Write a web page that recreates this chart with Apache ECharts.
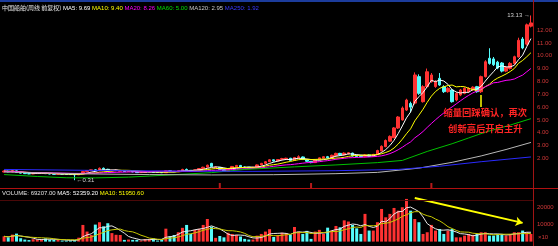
<!DOCTYPE html>
<html><head><meta charset="utf-8">
<script src="https://cdn.jsdelivr.net/npm/echarts@6/dist/echarts.min.js"></script>
<style>html,body{margin:0;padding:0;background:#000;}#c{width:558px;height:246px;}</style>
</head><body><div id="c"></div>
<script>
// ---- data ----
// weekly candles: [open, close, low, high]
const candles = [
[0.95,1.02,0.92,1.06],[1.02,0.96,0.93,1.05],[0.96,1.04,0.94,1.08],[1.04,0.92,0.90,1.06],[0.92,0.86,0.84,0.94],
[0.86,0.82,0.80,0.88],[0.82,0.80,0.78,0.84],[0.80,0.83,0.78,0.85],[0.83,0.85,0.81,0.87],[0.85,0.88,0.83,0.90],
[0.88,0.82,0.80,0.90],[0.82,0.79,0.77,0.84],[0.79,0.77,0.75,0.80],[0.77,0.80,0.76,0.82],[0.80,0.78,0.76,0.81],
[0.78,0.76,0.74,0.79],[0.76,0.75,0.73,0.78],[0.75,0.73,0.31,0.77],[0.73,0.80,0.72,0.82],[0.80,0.98,0.79,1.02],
[0.98,1.06,0.95,1.10],[1.06,1.12,1.02,1.15],[1.12,1.04,1.00,1.18],[1.04,1.24,1.02,1.30],[1.24,1.16,1.12,1.30],
[1.16,1.02,0.98,1.20],[1.02,1.08,0.98,1.12],[1.05,1.10,1.02,1.13],[1.00,1.04,0.98,1.07],[1.04,0.98,0.96,1.05],
[0.98,1.00,0.96,1.02],[1.00,0.95,0.93,1.01],[0.95,0.90,0.88,0.96],[0.90,0.92,0.89,0.93],[0.92,0.95,0.90,0.96],
[0.95,0.98,0.93,1.00],[0.98,0.93,0.91,0.99],[0.93,0.91,0.90,0.94],[0.91,0.89,0.87,0.93],[0.89,1.05,0.88,1.10],
[1.05,1.00,0.97,1.08],[1.00,0.97,0.95,1.02],[0.97,1.06,0.95,1.09],[1.06,1.15,1.03,1.20],[1.15,1.08,1.05,1.22],
[1.08,1.03,1.00,1.10],[1.03,1.12,1.01,1.15],[1.12,1.22,1.10,1.26],[1.22,1.32,1.20,1.36],[1.32,1.48,1.30,1.52],
[1.62,1.38,1.34,1.66],[1.30,1.34,1.26,1.38],[1.30,1.15,1.10,1.33],[1.15,1.00,0.96,1.18],[1.00,1.20,0.98,1.24],
[1.20,1.38,1.16,1.42],[1.36,1.46,1.32,1.50],[1.46,1.30,1.26,1.50],[1.34,1.28,1.25,1.37],[1.32,1.27,1.25,1.34],
[1.27,1.32,1.25,1.35],[1.32,1.50,1.30,1.54],[1.50,1.62,1.47,1.66],[1.62,1.75,1.58,1.80],[1.75,1.90,1.72,1.95],
[1.90,1.80,1.76,1.93],[1.80,1.92,1.78,1.96],[1.92,2.00,1.88,2.05],[1.95,2.02,1.90,2.06],[2.02,1.85,1.80,2.05],
[1.85,2.08,1.82,2.12],[2.05,2.14,2.00,2.25],[2.12,1.92,1.88,2.16],[1.92,1.78,1.72,1.95],[1.78,1.68,1.63,1.80],
[1.68,1.90,1.65,1.93],[1.90,2.05,1.86,2.08],[2.02,2.14,1.98,2.18],[2.14,2.05,2.00,2.20],[2.05,2.25,2.02,2.30],
[2.22,2.40,2.18,2.45],[2.40,2.28,2.24,2.44],[2.28,2.42,2.25,2.48],[2.38,2.45,2.30,2.50],[2.42,2.20,2.15,2.45],
[2.25,2.15,2.10,2.30],[2.22,2.14,2.10,2.26],[2.14,2.28,2.10,2.33],[2.28,2.18,2.14,2.32],[2.18,2.32,2.15,2.36],
[2.30,2.62,2.27,2.68],[2.58,2.95,2.55,3.02],[2.92,3.40,2.88,3.48],[3.35,3.72,3.30,3.80],[3.62,4.38,3.58,4.45],
[4.37,5.23,4.30,5.30],[5.00,5.93,4.95,6.05],[5.77,6.55,5.70,6.65],[6.28,6.00,5.60,6.42],[6.31,8.50,6.20,8.70],
[8.37,7.07,6.95,8.55],[6.42,7.59,6.35,7.70],[7.59,8.75,7.50,9.00],[7.98,8.50,7.90,8.65],[7.60,7.98,7.50,8.10],
[8.24,7.72,7.65,8.65],[7.59,7.20,7.10,7.70],[7.20,7.46,7.12,7.55],[7.33,6.42,6.35,7.40],[6.55,7.07,6.45,7.15],
[6.94,7.33,6.85,7.40],[7.07,7.46,7.00,7.55],[7.20,7.46,7.12,7.55],[7.35,7.55,7.25,7.62],[7.59,7.20,7.12,7.65],
[7.20,8.37,7.10,8.45],[8.37,9.53,8.30,9.65],[9.80,9.40,9.30,10.58],[9.75,9.30,9.20,9.90],[9.50,9.04,8.95,9.60],
[9.43,8.80,8.70,9.50],[8.80,9.10,8.72,9.20],[9.00,9.40,8.92,9.50],[9.40,9.92,9.30,10.00],[9.90,11.20,9.85,11.40],
[11.30,10.60,10.50,11.45],[10.90,12.40,10.80,12.50],[12.30,12.55,12.20,13.13]
];
// weekly volume (axis units, x10)
const volumes = [
3100,2500,4100,4700,2000,1200,900,1400,1200,1500,
1900,1200,1000,1000,600,600,700,900,2300,9800,
5900,3900,10000,11400,9000,10800,5000,4000,3900,1000,
1200,1000,1000,600,1500,1500,1900,600,1200,7600,
3100,3900,5500,8100,9800,4500,6900,7500,9800,13300,
8800,2200,3300,2500,5200,4500,3900,3000,1600,1200,
1200,3500,4500,5900,7300,2700,3900,5200,5000,3900,
8600,5900,4500,6300,1600,5900,6900,4500,8200,6500,
9200,8400,12500,11800,9800,7800,4500,16300,6500,6500,
11400,19200,14300,16300,19800,18200,20200,25100,18200,13300,
11400,4500,5500,9800,6500,7400,4500,6500,7400,2500,
2500,3500,4500,4000,4500,5500,5500,3500,3500,4500,
4500,3500,4500,5500,5500,6500,5500,4500
];
// long moving averages at sample weeks: [week, value]
const ma60Pts  = [[0,0.75],[8,0.60],[15,0.50],[22,0.49],[30,0.55],[40,0.72],[50,0.90],[58,1.15],[70,1.35],[80,1.50],[90,1.68],[96,1.85],[102,2.55],[108,3.15],[112,3.60],[116,4.05],[122,4.60],[127,5.10]];
const ma120Pts = [[0,0.95],[10,0.88],[20,0.80],[35,0.75],[50,0.72],[65,0.74],[80,0.82],[90,0.92],[100,1.25],[108,1.70],[115,2.20],[121,2.70],[127,3.25]];
const ma250Pts = [[0,1.15],[20,1.08],[40,1.02],[60,1.00],[80,1.05],[95,1.15],[105,1.40],[115,1.75],[127,2.12]];
const priceTicks = [2,3,4,5,6,7,8,9,10,11,12];
const volTicks = [10000,20000];
const infoMarkWeeks = [52,74,103];
const pointerWeek = 115, pointerRange = [6.0, 6.95];
const volArrow = [[99,25600],[125,11000]];
const noteLines = [['缩量回踩确认，再次',116,5.62],['创新高后开启主升',116,4.37]];
const headerItems = [['中国船舶(周线 前复权)','#e8e8e8'],['MA5: 9.69','#ffffff'],['MA10: 9.40','#ffff00'],['MA20: 8.26','#ff00ff'],['MA60: 5.00','#00e000'],['MA120: 2.95','#c8c8c8'],['MA250: 1.92','#3a3aff']];
const volHeaderItems = [['VOLUME: 69207.00','#e0e0e0'],['MA5: 52359.20','#ffffff'],['MA10: 51950.60','#ffff00']];

// ---- build ----
const cats = candles.map((_, i) => String(i));
const closes = candles.map(d => d[1]);
function movingAvg(arr, n){
  return arr.map((_, i) => { const s = Math.max(0, i - n + 1); let sum = 0; for (let k = s; k <= i; k++) sum += arr[k]; return +(sum / (i - s + 1)).toFixed(3); });
}
const UP = '#ff3232', DOWN = '#54fcfc', AXIS_RED = '#d03838', NUMFONT = 'Liberation Sans', CJK = 'Noto Sans CJK SC';
const volData = volumes.map((v, i) => ({ value: v, itemStyle: { color: candles[i][1] >= candles[i][0] ? UP : DOWN } }));
const pts = arr => arr.map(p => [String(p[0]), p[1]]);
function richHeader(items){
  const rich = {}; const parts = [];
  items.forEach((it, k) => { rich['r' + k] = { fill: it[1], fontSize: 6, fontFamily: /[\u4e00-\u9fff]/.test(it[0]) ? CJK : NUMFONT }; parts.push('{r' + k + '|' + it[0] + '}'); });
  return { text: parts.join(' '), rich };
}
const h1 = richHeader(headerItems), h2 = richHeader(volHeaderItems);
const lineS = (name, data, color, xi, yi) => ({ name, type: 'line', data, xAxisIndex: xi, yAxisIndex: yi, showSymbol: false, symbol: 'none', z: 4, lineStyle: { color, width: 1 }, silent: true });

const chart = echarts.init(document.getElementById('c'), null, { renderer: 'canvas', width: 558, height: 246 });
chart.setOption({
  backgroundColor: '#000',
  animation: false,
  grid: [
    { left: 2, width: 531, top: 4.3, height: 179.9 },
    { left: 2, width: 531, top: 197.4, height: 44.2 }
  ],
  xAxis: [
    { type: 'category', data: cats, gridIndex: 0, boundaryGap: true, show: false },
    { type: 'category', data: cats, gridIndex: 1, boundaryGap: true, show: false }
  ],
  yAxis: [
    { type: 'value', gridIndex: 0, position: 'right', min: 0, max: 14, interval: 1, splitLine: { show: false }, axisLine: { show: false }, axisTick: { show: false },
      axisLabel: { margin: 4, color: AXIS_RED, fontSize: 6, fontFamily: NUMFONT, formatter: v => priceTicks.includes(v) ? v.toFixed(2) : '' } },
    { type: 'value', gridIndex: 1, position: 'right', min: 0, max: 26000, interval: 10000, splitLine: { show: false }, axisLine: { show: false }, axisTick: { show: false },
      axisLabel: { margin: 4, color: AXIS_RED, fontSize: 6, fontFamily: NUMFONT, formatter: v => volTicks.includes(v) ? String(v) : '' } }
  ],
  series: [
    { name: 'K', type: 'candlestick', data: candles, xAxisIndex: 0, yAxisIndex: 0, barWidth: 3, z: 2,
      itemStyle: { color: UP, color0: DOWN, borderColor: UP, borderColor0: DOWN, borderWidth: 1 },
      markPoint: { symbol: 'circle', symbolSize: 0, silent: true,
        data: [
          { type: 'max', valueDim: 'highest', label: { show: true, position: 'left', distance: 1, color: '#d0d0d0', fontSize: 6, fontFamily: NUMFONT, formatter: p => p.value.toFixed(2) + ' \u2192' } },
          { type: 'min', valueDim: 'lowest', label: { show: true, position: 'right', distance: 2, color: '#d0d0d0', fontSize: 6, fontFamily: NUMFONT, formatter: p => '\u2190' + p.value.toFixed(2) } }
        ].concat(noteLines.map(n => ({ coord: [String(n[1]), n[2]], value: n[0],
          label: { show: true, position: 'inside', color: '#ff2424', fontSize: 9.3, fontWeight: 'bold', fontFamily: CJK, formatter: n[0] } })))
      },
      markLine: { silent: true, symbol: ['none', 'none'], label: { show: false }, lineStyle: { color: '#ffff00', width: 1.5, type: 'solid' },
        data: [[{ coord: [String(pointerWeek), pointerRange[0]] }, { coord: [String(pointerWeek), pointerRange[1]] }]] }
    },
    lineS('MA5', movingAvg(closes, 5), '#ffffff', 0, 0),
    lineS('MA10', movingAvg(closes, 10), '#ffff00', 0, 0),
    lineS('MA20', movingAvg(closes, 20), '#ff00ff', 0, 0),
    lineS('MA60', pts(ma60Pts), '#00c000', 0, 0),
    lineS('MA120', pts(ma120Pts), '#b8b8b8', 0, 0),
    lineS('MA250', pts(ma250Pts), '#2a2aff', 0, 0),
    { name: 'info', type: 'scatter', xAxisIndex: 0, yAxisIndex: 0, data: infoMarkWeeks.map(w => [String(w), 0]), symbol: 'rect', symbolSize: [2, 5], symbolOffset: [0, 1.3], clip: false, itemStyle: { color: '#e02020' }, silent: true, z: 5 },
    { name: 'VOL', type: 'bar', data: volData, xAxisIndex: 1, yAxisIndex: 1, barCategoryGap: '28%', z: 2, silent: true,
      markLine: { silent: true, symbol: ['none', 'arrow'], symbolSize: 7, label: { show: false }, lineStyle: { color: '#ffff00', width: 2, type: 'solid' },
        data: [[{ coord: [String(volArrow[0][0]), volArrow[0][1]] }, { coord: [String(volArrow[1][0]), volArrow[1][1]] }]] } },
    lineS('VMA5', movingAvg(volumes, 5), '#e8e8e8', 1, 1),
    lineS('VMA10', movingAvg(volumes, 10), '#c8c800', 1, 1)
  ],
  graphic: [
    { type: 'rect', shape: { x: 0, y: 0, width: 558, height: 2 }, style: { fill: '#1c3c9c' }, z: 50, silent: true },
    { type: 'line', shape: { x1: 533.5, y1: 0, x2: 533.5, y2: 246 }, style: { stroke: '#a01414', lineWidth: 1 }, z: 50, silent: true },
    { type: 'line', shape: { x1: 0, y1: 188.5, x2: 558, y2: 188.5 }, style: { stroke: '#b01010', lineWidth: 1 }, z: 50, silent: true },
    { type: 'line', shape: { x1: 0, y1: 200.5, x2: 533, y2: 200.5 }, style: { stroke: '#4a0808', lineWidth: 1 }, z: 50, silent: true },
    { type: 'text', x: 2, y: 8, z: 60, silent: true, style: { text: h1.text, rich: h1.rich, fontSize: 6, fontFamily: NUMFONT, fill: '#ddd', verticalAlign: 'middle' } },
    { type: 'text', x: 2, y: 193.5, z: 60, silent: true, style: { text: h2.text, rich: h2.rich, fontSize: 6, fontFamily: NUMFONT, fill: '#ddd', verticalAlign: 'middle' } },
    { type: 'text', x: 538, y: 237, z: 60, silent: true, style: { text: '×10', fontSize: 6, fontFamily: NUMFONT, fill: AXIS_RED, verticalAlign: 'middle' } }
  ]
});
</script></body></html>
